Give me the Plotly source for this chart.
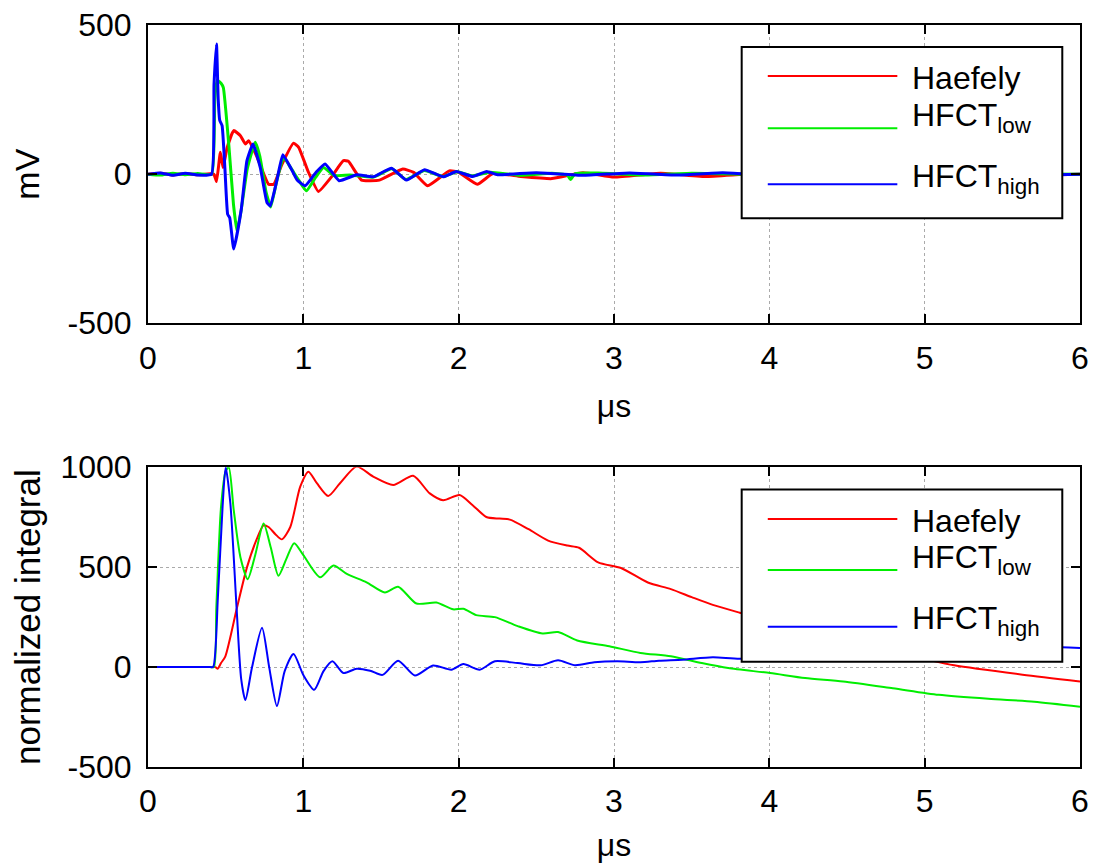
import plotly.graph_objects as go

# ---------------- top panel (mV) ----------------
top_haefely_t = [0, 0.08, 0.16, 0.24, 0.32, 0.40, 0.424, 0.441, 0.466, 0.483, 0.51, 0.552, 0.595, 0.627, 0.648,
                 0.70, 0.776, 0.81, 0.86, 0.937, 0.97, 1.03, 1.097, 1.18, 1.258, 1.29, 1.375, 1.49, 1.64, 1.71,
                 1.80, 1.94, 2.0, 2.12, 2.22, 2.4, 2.6, 2.8, 3.0, 3.3, 3.6, 4.0, 4.5, 5.0, 5.5, 6.0]
top_haefely_v = [0, 3, -3, 2, -2, 1, 0, -25, 73, 22, 90, 146, 129, 101, 112,
                 60, -34, -34, 30, 104, 90, 10, -58, -10, 45, 43, -20, -20, 17, 6,
                 -39, 11, 6, -34, 2, -8, -15, 5, -10, 3, -8, 5, -5, 4, -3, 0]

top_low_t = [0, 0.08, 0.16, 0.24, 0.32, 0.41, 0.43, 0.445, 0.47, 0.485, 0.52, 0.55, 0.573, 0.60, 0.64,
             0.69, 0.72, 0.76, 0.79, 0.83, 0.873, 0.92, 0.97, 1.02, 1.08, 1.13, 1.2, 1.3, 1.45, 1.57,
             1.66, 1.78, 1.9, 1.99, 2.09, 2.2, 2.4, 2.6, 2.7, 2.72, 2.75, 2.9, 3.2, 3.5, 4.0, 4.5, 5.0, 5.5, 6.0]
top_low_v = [0, -3, 3, -2, 2, 0, 250, 315, 305, 290, 100, -100, -191, -120, 20,
             107, 60, -60, -110, -20, 56, 20, -20, -56, -10, 22, -5, -3, -10, 18,
             -18, 12, -8, 8, -6, 6, -4, 3, -3, -18, 2, 4, -3, 3, -2, 3, -3, 2, 0]

top_high_t = [0, 0.08, 0.16, 0.24, 0.32, 0.409, 0.425, 0.441, 0.452, 0.462, 0.477, 0.495, 0.513, 0.526,
              0.552, 0.60, 0.637, 0.676, 0.723, 0.766, 0.787, 0.83, 0.868, 0.92, 0.96, 1.012, 1.08, 1.14,
              1.23, 1.343, 1.45, 1.568, 1.664, 1.78, 1.9, 1.985, 2.09, 2.18, 2.25, 2.5, 2.8, 3.1, 3.4,
              3.7, 4.0, 4.4, 4.8, 5.2, 5.6, 6.0]
top_high_v = [0, 4, -4, 3, -3, 0, 300, 436, 250, 180, 163, 20, -135, -146,
              -251, -120, 45, 101, 22, -95, -107, -20, 65, 20, -20, -39, 5, 34,
              -22, -2, -9, 20, -20, 15, -9, 9, -8, 9, -2, 5, -4, 4, -3,
              5, -4, 3, -3, 4, -3, 0]

# ---------------- bottom panel (normalized integral) ----------------
bot_haefely_t = [0, 0.2, 0.40, 0.434, 0.449, 0.47, 0.498, 0.573, 0.637, 0.70, 0.744, 0.776, 0.82, 0.862, 0.916,
                 0.98, 1.033, 1.087, 1.16, 1.236, 1.343, 1.45, 1.579, 1.707, 1.814, 1.9, 2.006, 2.09, 2.178,
                 2.263, 2.33, 2.45, 2.576, 2.70, 2.775, 2.898, 3.045, 3.218, 3.366, 3.5, 3.636, 3.81, 4.2,
                 4.6, 5.0, 5.19, 5.63, 6.0]
bot_haefely_v = [0, 0, 0, 0, -8, 20, 54, 298, 499, 640, 709, 701, 665, 639, 701,
                 903, 978, 920, 856, 920, 1003, 953, 911, 957, 869, 835, 861, 810, 751,
                 743, 738, 690, 633, 608, 597, 524, 496, 423, 390, 350, 311, 272, 190,
                 110, 40, 9, -38, -72]

bot_low_t = [0, 0.2, 0.40, 0.424, 0.44, 0.47, 0.50, 0.52, 0.552, 0.595, 0.642, 0.69, 0.744, 0.79, 0.84, 0.89,
             0.941, 1.0, 1.108, 1.194, 1.28, 1.407, 1.525, 1.61, 1.728, 1.857, 1.964, 2.03, 2.113, 2.233,
             2.38, 2.54, 2.64, 2.763, 2.97, 3.17, 3.366, 3.565, 3.735, 4.005, 4.23, 4.475, 4.795, 5.09,
             5.41, 5.705, 6.0]
bot_low_v = [0, 0, 0, 0, 300, 800, 980, 1000, 785, 550, 440, 560, 718, 600, 457, 540,
             620, 560, 449, 508, 466, 424, 373, 402, 318, 323, 289, 292, 260, 250,
             205, 168, 175, 133, 104, 71, 54, 20, -5, -30, -55, -72, -106, -139,
             -159, -173, -198]

bot_high_t = [0, 0.2, 0.40, 0.419, 0.45, 0.48, 0.50, 0.53, 0.57, 0.60, 0.627, 0.67, 0.734, 0.78, 0.83, 0.88,
              0.937, 1.0, 1.07, 1.13, 1.187, 1.258, 1.343, 1.43, 1.51, 1.61, 1.718, 1.835, 1.953, 2.03,
              2.135, 2.233, 2.38, 2.528, 2.64, 2.75, 2.873, 3.02, 3.17, 3.29, 3.44, 3.636, 3.81, 4.3,
              4.8, 5.3, 5.88, 6.0]
bot_high_v = [0, 0, 0, 0, 350, 800, 1000, 820, 300, -60, -165, 0, 197, 0, -195, -20,
              66, -40, -114, -20, 29, -30, -8, -18, -39, 32, -42, 8, -13, 15,
              -13, 29, 20, 9, 34, 9, 24, 29, 24, 32, 37, 49, 42, 60,
              75, 85, 99, 96]

series_names = ["Haefely", "HFCT<sub>low</sub>", "HFCT<sub>high</sub>"]
series_colors = ["#ff0000", "#00ee00", "#0000ff"]

x_ticks = [0, 1, 2, 3, 4, 5, 6]
x_tick_labels = ["0", "1", "2", "3", "4", "5", "6"]
top_y_ticks = [-500, 0, 500]
top_y_tick_labels = ["-500", "0", "500"]
bot_y_ticks = [-500, 0, 500, 1000]
bot_y_tick_labels = ["-500", "0", "500", "1000"]

FONT = "Liberation Sans, Arial, Helvetica, sans-serif"
FS = 32

fig = go.Figure()

top_data = [(top_haefely_t, top_haefely_v), (top_low_t, top_low_v), (top_high_t, top_high_v)]
bot_data = [(bot_haefely_t, bot_haefely_v), (bot_low_t, bot_low_v), (bot_high_t, bot_high_v)]

for (t, v), name, col in zip(top_data, series_names, series_colors):
    fig.add_trace(go.Scatter(x=t, y=v, mode="lines", name=name, showlegend=False,
                             line=dict(color=col, width=3, shape="spline", smoothing=0.4),
                             xaxis="x", yaxis="y"))
for (t, v), name, col in zip(bot_data, series_names, series_colors):
    fig.add_trace(go.Scatter(x=t, y=v, mode="lines", name=name, showlegend=False,
                             line=dict(color=col, width=2, shape="spline", smoothing=0.7),
                             xaxis="x2", yaxis="y2"))

common_x = dict(range=[0, 6], tickvals=x_ticks, ticktext=x_tick_labels, ticks="inside", ticklen=9,
                tickwidth=2, tickcolor="black", showline=True, linecolor="black", linewidth=2,
                mirror="ticks", showgrid=True, gridcolor="#aaaaaa", griddash="dot", gridwidth=1,
                zeroline=False, automargin=False, ticklabeloverflow="allow",
                tickfont=dict(size=FS, color="black", family=FONT), ticklabelstandoff=5)
common_y = dict(ticks="inside", ticklen=9, tickwidth=2, tickcolor="black", showline=True,
                linecolor="black", linewidth=2, mirror="ticks", showgrid=True, gridcolor="#aaaaaa",
                griddash="dot", gridwidth=1, zeroline=False, automargin=False,
                ticklabeloverflow="allow",
                tickfont=dict(size=FS, color="black", family=FONT), ticklabelstandoff=8)

top_dom = [0.598, 1.0]
bot_dom = [0.0, 0.404]

# page body has an 8px margin, so the figure is sized/offset to keep the plot where the reference has it
fig.update_layout(
    width=1089, height=855,
    margin=dict(l=140, r=17, t=17, b=96),
    paper_bgcolor="white", plot_bgcolor="white",
    font=dict(family=FONT, size=FS, color="black"),
    xaxis=dict(**common_x, domain=[0, 1], anchor="y",
               title=dict(text="μs", standoff=20, font=dict(size=FS))),
    yaxis=dict(**common_y, domain=top_dom, anchor="x", range=[-500, 500], tickvals=top_y_ticks,
               ticktext=top_y_tick_labels,
               title=dict(text="mV", standoff=20, font=dict(size=34))),
    xaxis2=dict(**common_x, domain=[0, 1], anchor="y2",
                title=dict(text="μs", standoff=20, font=dict(size=FS))),
    yaxis2=dict(**common_y, domain=bot_dom, anchor="x2", range=[-500, 1000], tickvals=bot_y_ticks,
                ticktext=bot_y_tick_labels,
                title=dict(text="normalized integral", standoff=20, font=dict(size=35))),
    showlegend=False,
)

# manual MATLAB-style legends (box, line samples, labels)
legend_specs = [
    ("x domain", "y domain", 0.637, 0.981, 0.352, 0.926, [0.829, 0.654, 0.466]),
    ("x2 domain", "y2 domain", 0.637, 0.981, 0.351, 0.926, [0.827, 0.657, 0.468]),
]
label_shift = [-2, 11, 6]
for xr, yr, x0, x1, y0, y1, rows in legend_specs:
    fig.add_shape(type="rect", xref=xr, yref=yr, x0=x0, x1=x1, y0=y0, y1=y1,
                  fillcolor="white", line=dict(color="black", width=2), layer="above")
    for ry, name, col, ys in zip(rows, series_names, series_colors, label_shift):
        fig.add_shape(type="line", xref=xr, yref=yr, x0=0.665, x1=0.804, y0=ry, y1=ry,
                      line=dict(color=col, width=2), layer="above")
        fig.add_annotation(xref=xr, yref=yr, x=0.818, y=ry, text=name, showarrow=False,
                           xanchor="left", yanchor="middle", yshift=ys,
                           font=dict(size=FS, color="black", family=FONT))

fig.write_html("out.html")
